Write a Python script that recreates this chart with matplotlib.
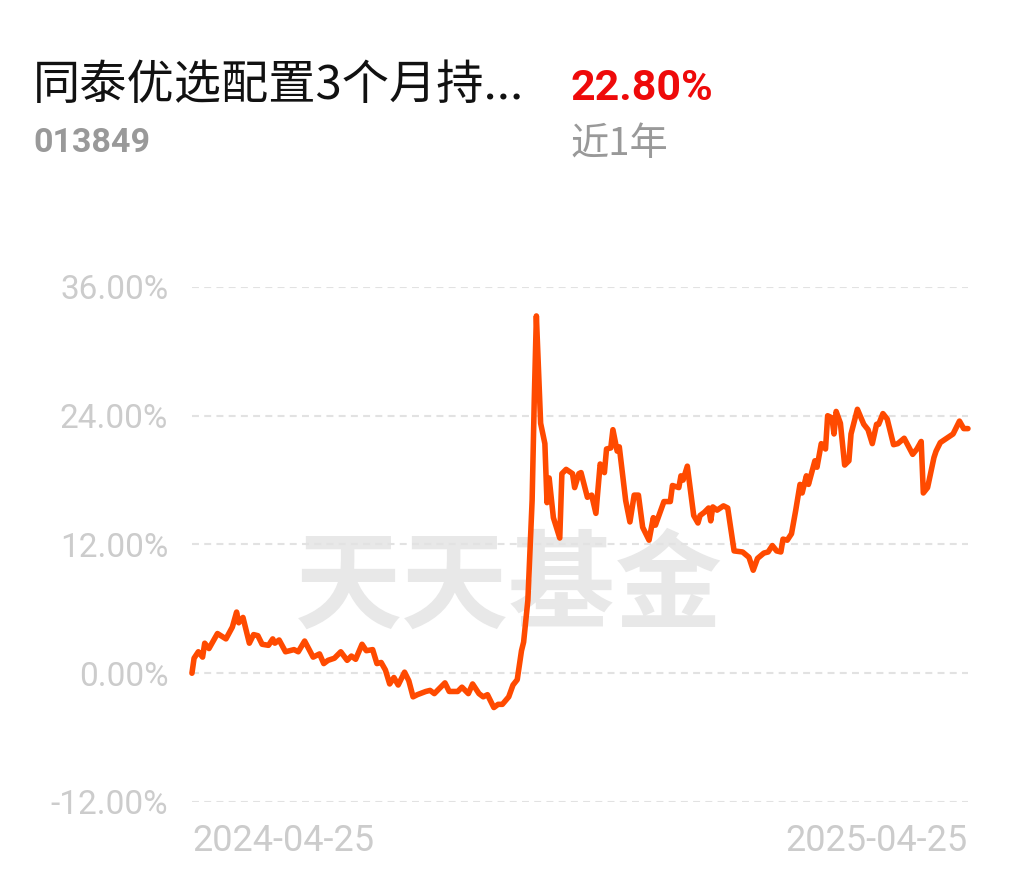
import matplotlib
matplotlib.use("Agg")
import matplotlib.pyplot as plt

plt.rcParams['font.family'] = ['Roboto', 'Noto Sans CJK SC', 'DejaVu Sans']
plt.rcParams['lines.scale_dashes'] = False

# fund info
fund_name = "同泰优选配置3个月持..."
fund_code = "013849"
period_return = "22.80%"
period_label = "近1年"
start_date = "2024-04-25"
end_date = "2025-04-25"

# days since start date / cumulative return (%)
days = [0, 1, 3, 5, 6, 8, 12, 16, 19, 21, 22, 24, 27, 29, 31, 33, 36, 38, 39, 41,
        44, 48, 50, 53, 57, 60, 62, 64, 67, 70, 73, 75, 77, 80, 82, 85, 87, 89, 91, 93,
        95, 97, 100, 102, 104, 106, 110, 112, 114, 119, 121, 125, 127, 130, 132, 135,
        137, 139, 142, 144, 146, 149, 151, 153, 155, 156, 158,
        160, 161, 162, 164, 166, 167, 168, 170, 173, 174, 176, 179, 180, 182, 183, 186,
        188, 190, 192, 194, 195, 197, 198, 200, 201, 204, 206, 208, 210, 212, 215, 217,
        218, 222, 225, 226, 229, 230, 231, 233, 236, 238, 239, 241, 243, 244, 245, 247,
        250, 252, 255, 259, 262, 264, 266, 269, 271, 273, 275, 277, 278, 280, 282, 284,
        286, 287, 289, 290, 293, 294, 296, 298, 299, 301, 302, 303, 305, 307, 309, 310,
        313, 316, 318, 320, 322, 323, 325, 327, 330, 332, 335, 339, 341, 343, 344, 346,
        349, 350, 352, 355, 358, 361, 363, 365]
returns = [0, 1.4, 2.0, 1.5, 2.8, 2.3, 3.7, 3.2, 4.3, 5.7, 4.7, 5.2, 2.8, 3.6, 3.5, 2.7,
           2.6, 3.2, 2.8, 3.1, 2.0, 2.2, 2.0, 3.0, 1.5, 1.8, 0.9, 1.2, 1.4, 2.0, 1.2, 1.6,
           1.3, 2.7, 2.1, 2.2, 0.9, 1.0, 0.3, -1.0, -0.4, -1.1, 0.1, -0.7, -2.2, -2.0,
           -1.7, -1.6, -1.9, -0.9, -1.7, -1.7, -1.3, -1.9, -1.0, -1.9, -2.2, -2.0, -3.2,
           -2.9, -2.9, -2.2, -1.1, -0.6, 2.1, 2.9, 6.8,
           16.1, 25.4, 33.3, 23.3, 21.4, 15.9, 18.2, 14.5, 12.6, 18.6, 19.0, 18.6, 17.3,
           18.6, 18.7, 16.4, 16.6, 14.9, 19.5, 18.7, 20.9, 21.0, 22.7, 20.7, 21.1, 16.1,
           14.1, 16.6, 16.6, 13.6, 12.4, 14.5, 13.8, 16.0, 16.0, 17.5, 17.3, 18.4, 18.0,
           19.3, 14.7, 14.0, 14.7, 15.0, 15.4, 14.2, 15.5, 15.2,
           15.6, 15.4, 11.4, 11.3, 10.8, 9.6, 10.7, 11.2, 11.3, 11.9, 11.4, 11.3, 12.5,
           12.4, 13.0, 15.2, 17.6, 16.8, 18.4, 17.6, 19.8, 19.2, 21.4, 20.9, 24.0, 23.8,
           22.3, 24.4, 23.3, 19.4, 19.8, 22.3, 24.6, 23.2, 22.7, 21.4, 23.2, 23.2, 24.2,
           23.7, 21.3, 21.4, 21.9, 20.4, 20.9, 21.6, 16.8, 17.3, 20.1, 20.7, 21.5, 21.9,
           22.3, 23.5, 22.8, 22.8]
yticks = [-12, 0, 12, 24, 36]

fig = plt.figure(figsize=(10.14, 8.76), dpi=100)
ax = fig.add_axes([0.1893, 0.0845, 0.7653, 0.5879])
ax.patch.set_alpha(0)

ax.plot(days, returns, color='#ff4a00', lw=4.0, solid_joinstyle='round',
        solid_capstyle='round', clip_on=False, zorder=3)

ax.set_xlim(0, 365)
ax.set_ylim(-12, 36)
ax.set_yticks(yticks)
ax.set_yticklabels([f"{v:.2f}%" for v in yticks])
ax.set_xticks([])
ax.tick_params(axis='y', length=0, pad=17, labelsize=24, labelcolor='#cccccc')
for v in yticks:
    ax.axhline(v, color='#e2e2e2', lw=1.5, dashes=(5, 3.8), zorder=1)
for s in ax.spines.values():
    s.set_visible(False)

ax.text(0, -0.076, start_date, transform=ax.get_xaxis_transform(), ha='left',
        va='center', fontsize=26, color='#cccccc')
ax.text(365, -0.076, end_date, transform=ax.get_xaxis_transform(), ha='right',
        va='center', fontsize=26, color='#cccccc')

# watermark
ax.text(0.408, 0.415, "天天基金", transform=ax.transAxes, ha='center', va='center',
        fontsize=77, fontweight='bold', color='#e8e8e8',
        family=['Noto Sans CJK SC', 'DejaVu Sans'], zorder=0)

# header
fig.text(33 / 1014, 1 - 86 / 876, fund_name, ha='left', va='center', fontsize=34,
         color='#111111', family=['Noto Sans CJK SC', 'DejaVu Sans'])
fig.text(571 / 1014, 1 - 88 / 876, period_return, ha='left', va='center',
         fontsize=31, fontweight='bold', color='#ee0a0a')
fig.text(33 / 1014, 1 - 143 / 876, fund_code, ha='left', va='center', fontsize=24.5,
         fontweight='bold', color='#999999')
fig.text(571 / 1014, 1 - 145 / 876, period_label, ha='left', va='center',
         fontsize=27.5, color='#999999', family=['Noto Sans CJK SC', 'DejaVu Sans'])

fig.savefig("out.png", dpi=100, facecolor='white')
